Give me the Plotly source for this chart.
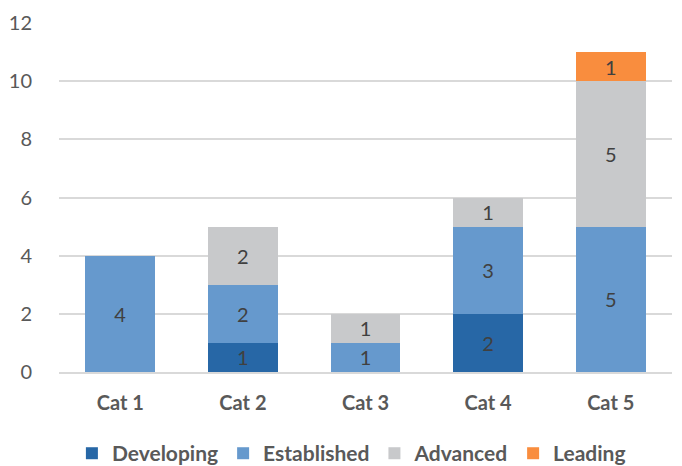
import plotly.graph_objects as go

categories = ["Cat 1", "Cat 2", "Cat 3", "Cat 4", "Cat 5"]
developing = [None, 1, None, 2, None]
established = [4, 2, 1, 3, 5]
advanced = [None, 2, 1, 1, 5]
leading = [None, None, None, None, 1]
y_ticks = [0, 2, 4, 6, 8, 10, 12]

series = [
    ("Developing", developing, "#2767A6"),
    ("Established", established, "#6699CD"),
    ("Advanced", advanced, "#C8C9CB"),
    ("Leading", leading, "#F98D3E"),
]

FONT = "Lato, Open Sans, sans-serif"

fig = go.Figure()
for name, vals, color in series:
    fig.add_trace(go.Bar(
        name="<b>" + name + "</b>", x=categories, y=vals,
        marker=dict(color=color, line=dict(width=0)),
        text=[("" if v is None else str(v)) for v in vals],
        textposition="inside", insidetextanchor="middle", textangle=0,
        constraintext="none",
        textfont=dict(family=FONT, size=20, color="#404040"),
    ))

fig.update_layout(
    barmode="stack", bargap=0.43,
    width=682, height=466,
    margin=dict(l=59, r=10, t=23, b=94, autoexpand=False),
    plot_bgcolor="white", paper_bgcolor="white",
    font=dict(family=FONT, size=20, color="#595959"),
    legend=dict(orientation="h", x=0.477, xanchor="center", y=-0.175, yanchor="top",
                font=dict(size=21, color="#595959", family="Lato", weight="bold"),
                itemwidth=30, traceorder="normal"),
)
fig.update_yaxes(range=[0, 12], tickvals=y_ticks, showgrid=True, gridcolor="#D9D9D9", gridwidth=1.5,
                 zeroline=False, showline=False, ticks="outside", ticklen=22, tickcolor="rgba(0,0,0,0)",
                 tickfont=dict(size=20, color="#595959"))
fig.update_xaxes(showline=True, linecolor="#D9D9D9", linewidth=1.5, ticks="outside", ticklen=12,
                 tickcolor="rgba(0,0,0,0)",
                 tickfont=dict(size=20, color="#595959", weight="bold"))

fig.write_html("out.html")
